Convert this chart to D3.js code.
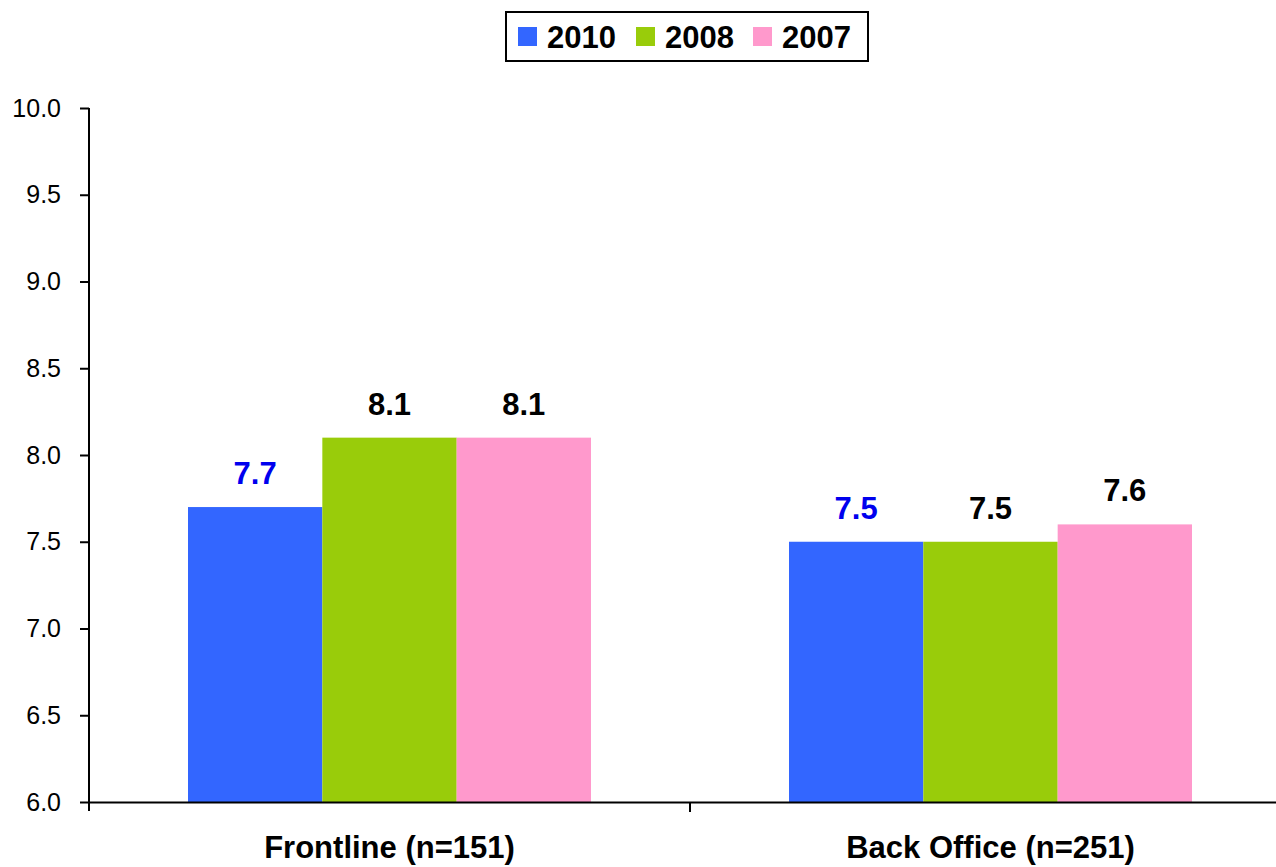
<!DOCTYPE html>
<html>
<head>
<meta charset="utf-8">
<script src="https://cdnjs.cloudflare.com/ajax/libs/d3/7.8.5/d3.min.js"></script>
<style>
  html, body { margin: 0; padding: 0; background: #fff; }
  svg { display: block; font-family: "Liberation Sans", Arial, sans-serif; }
</style>
</head>
<body>
<svg id="chart" width="1276" height="867"></svg>
<script>
// Mean scores by group and survey year
const categories = ["Frontline (n=151)", "Back Office (n=251)"];
const years = ["2010", "2008", "2007"];
const values2010 = [7.7, 7.5];
const values2008 = [8.1, 7.5];
const values2007 = [8.1, 7.6];
const yTicks = [6.0, 6.5, 7.0, 7.5, 8.0, 8.5, 9.0, 9.5, 10.0];

const colors = { "2010": "#3366ff", "2008": "#99cc0a", "2007": "#ff99cc" };
const labelColors = { "2010": "#0000ee", "2008": "#000", "2007": "#000" };

const seriesValues = { "2010": values2010, "2008": values2008, "2007": values2007 };
const rows = categories.map((c, i) => ({
  category: c,
  bars: years.map(y => ({ year: y, value: seriesValues[y][i] }))
}));

const svg = d3.select("#chart");
const margin = { left: 89, top: 108, bottom: 65 };
const plotRight = 1291;
const height = 867;

const x0 = d3.scaleBand().domain(categories).range([margin.left, plotRight]).paddingInner(0).paddingOuter(0);
const groupPad = 99;
const x1 = d3.scaleBand().domain(years).range([groupPad, x0.bandwidth() - groupPad]).padding(0);
const y = d3.scaleLinear().domain([6, 10]).range([height - margin.bottom, margin.top]);

// Bars
const groups = svg.append("g").selectAll("g").data(rows).join("g")
  .attr("transform", d => `translate(${x0(d.category)},0)`);

groups.selectAll("rect").data(d => d.bars).join("rect")
  .attr("x", d => x1(d.year))
  .attr("y", d => y(d.value))
  .attr("width", x1.bandwidth())
  .attr("height", d => y(6) - y(d.value))
  .attr("fill", d => colors[d.year]);

// Value labels
groups.selectAll("text.val").data(d => d.bars).join("text")
  .attr("class", "val")
  .attr("x", d => x1(d.year) + x1.bandwidth() / 2)
  .attr("y", d => y(d.value) - 23)
  .attr("text-anchor", "middle")
  .attr("font-size", 31)
  .attr("font-weight", "bold")
  .attr("fill", d => labelColors[d.year])
  .text(d => d3.format(".1f")(d.value));

// Y axis
const yAxis = d3.axisLeft(y).tickValues(yTicks).tickFormat(d3.format(".1f")).tickSizeOuter(0).tickSize(9).tickPadding(19);
const gy = svg.append("g").attr("transform", `translate(${margin.left},0)`).call(yAxis);
gy.select(".domain").attr("stroke", "#000").attr("stroke-width", 2);
gy.selectAll(".tick line").attr("stroke", "#000").attr("stroke-width", 2);
gy.selectAll(".tick text").attr("font-size", 25).attr("font-family", "Liberation Sans, Arial, sans-serif").attr("fill", "#000");
gy.select(".domain").attr("d", `M0,${y(6) + 9}V${y(10)}`);

// X axis
const xAxis = d3.axisBottom(x0).tickSize(0).tickFormat("");
const gx = svg.append("g").attr("transform", `translate(0,${y(6)})`).call(xAxis);
gx.select(".domain").attr("stroke", "#000").attr("stroke-width", 2);
gx.selectAll(".tick").remove();
// Boundary tick between categories
gx.append("line")
  .attr("x1", x0(categories[1])).attr("x2", x0(categories[1]))
  .attr("y1", 0).attr("y2", 10)
  .attr("stroke", "#000").attr("stroke-width", 2);

// Category labels
svg.append("g").selectAll("text").data(categories).join("text")
  .attr("x", d => x0(d) + x0.bandwidth() / 2)
  .attr("y", 858)
  .attr("text-anchor", "middle")
  .attr("font-size", 31)
  .attr("font-weight", "bold")
  .attr("fill", "#000")
  .text(d => d);

// Legend
const legend = svg.append("g");
legend.append("rect")
  .attr("x", 506).attr("y", 12).attr("width", 362).attr("height", 49)
  .attr("fill", "#fff").attr("stroke", "#000").attr("stroke-width", 2);
const legendX = [518, 636, 753];
const items = legend.selectAll("g.item").data(years).join("g")
  .attr("class", "item")
  .attr("transform", (d, i) => `translate(${legendX[i]},0)`);
items.append("rect").attr("x", 0).attr("y", 27).attr("width", 19).attr("height", 19)
  .attr("fill", d => colors[d]);
items.append("text").attr("x", 29).attr("y", 48)
  .attr("font-size", 31).attr("font-weight", "bold").attr("fill", "#000")
  .text(d => d);
</script>
</body>
</html>
